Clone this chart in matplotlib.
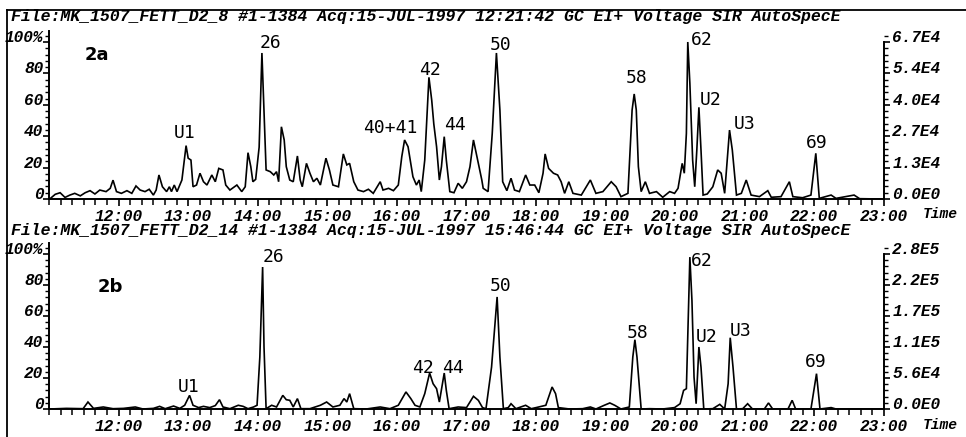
import matplotlib
matplotlib.use("Agg")
import matplotlib.pyplot as plt
from matplotlib.ticker import MultipleLocator
from matplotlib.lines import Line2D

# ---------------- data ----------------
headers = [
    "File:MK_1507_FETT_D2_8 #1-1384 Acq:15-JUL-1997 12:21:42 GC EI+ Voltage SIR AutoSpecE",
    "File:MK_1507_FETT_D2_14 #1-1384 Acq:15-JUL-1997 15:46:44 GC EI+ Voltage SIR AutoSpecE",
]
panel_names = ["2a", "2b"]
time_ticks = [12, 13, 14, 15, 16, 17, 18, 19, 20, 21, 22, 23]
time_tick_labels = ["12:00", "13:00", "14:00", "15:00", "16:00", "17:00",
                    "18:00", "19:00", "20:00", "21:00", "22:00", "23:00"]
pct_ticks = [0, 20, 40, 60, 80, 100]
pct_tick_labels = ["0", "20", "40", "60", "80", "100%"]
abs_labels_a = ["0.0E0", "1.3E4", "2.7E4", "4.0E4", "5.4E4", "6.7E4"]
abs_labels_b = ["0.0E0", "5.6E4", "1.1E5", "1.7E5", "2.2E5", "2.8E5"]

top_time = [11.01, 11.09, 11.16, 11.23, 11.30, 11.37, 11.45, 11.52, 11.59, 11.66, 11.73, 11.82,
            11.88, 11.92, 11.97, 12.04, 12.12, 12.19, 12.25, 12.31, 12.38, 12.44, 12.50, 12.54,
            12.58, 12.63, 12.69, 12.73, 12.76, 12.80, 12.84, 12.91, 12.97, 13.00, 13.04, 13.07,
            13.12, 13.17, 13.22, 13.27, 13.34, 13.39, 13.44, 13.50, 13.54, 13.60, 13.70, 13.77,
            13.82, 13.86, 13.90, 13.93, 13.97, 14.02, 14.06, 14.09, 14.12, 14.18, 14.23, 14.27,
            14.30, 14.34, 14.38, 14.41, 14.46, 14.51, 14.57, 14.61, 14.64, 14.70, 14.75, 14.80,
            14.85, 14.90, 14.98, 15.03, 15.08, 15.16, 15.23, 15.28, 15.32, 15.38, 15.44, 15.52,
            15.59, 15.66, 15.76, 15.80, 15.88, 15.95, 16.02, 16.07, 16.11, 16.16, 16.23, 16.28,
            16.32, 16.35, 16.40, 16.46, 16.50, 16.53, 16.57, 16.61, 16.64, 16.68, 16.71, 16.76,
            16.82, 16.88, 16.94, 17.00, 17.05, 17.10, 17.15, 17.22,
            17.24, 17.31, 17.37, 17.43, 17.48, 17.52, 17.58, 17.64, 17.69, 17.76, 17.85, 17.91,
            17.98, 18.04, 18.10, 18.13, 18.18, 18.25, 18.31, 18.36, 18.41, 18.47, 18.53, 18.65,
            18.78, 18.86, 18.96, 19.08, 19.15, 19.22, 19.32, 19.38, 19.41, 19.44, 19.47, 19.51,
            19.57, 19.63, 19.73, 19.82, 19.92, 19.99, 20.04, 20.10, 20.13, 20.16, 20.18, 20.21,
            20.25, 20.28, 20.31, 20.34, 20.37, 20.40, 20.46, 20.54, 20.61, 20.66, 20.71, 20.74,
            20.78, 20.82, 20.88, 20.95, 21.02, 21.09, 21.21, 21.33, 21.38, 21.52, 21.64, 21.69,
            21.83, 21.95, 22.02, 22.07, 22.24, 22.31, 22.57, 22.65, 22.96]
top_pct = [0, 3, 4, 1, 2.5, 3.6, 2, 4, 5.3, 3.2, 5.7, 4.7,
           6.8, 12, 4.7, 3.6, 5.3, 3.6, 8.3, 5.7, 4.7, 6.2, 2.5, 5.7,
           15.3, 7.8, 4.7, 7.8, 4.7, 8.9, 4.7, 12.1, 34, 26, 24.8, 7.8,
           8.9, 16.4, 11, 8.9, 15.3, 11, 19.5, 18.5, 8.9, 5.7, 8.9, 4.7,
           7.8, 29.5, 20.6, 11, 12.5, 33, 93, 56.7, 18.5, 17.4, 15.3, 17.4,
           11, 46, 37.6, 20.6, 12.1, 11, 27.4, 12.1, 7.8, 22.7, 16.4, 11,
           13.2, 8.9, 26, 18.5, 8.9, 7.8, 28.7, 21.7, 22.7, 11, 5.7, 4.7,
           6.2, 3.6, 11, 5.7, 6.8, 5.3, 8.9, 27, 37.6, 33.3, 14.2, 8.9,
           12.1, 4.7, 24.8, 77.5, 63, 47.8, 33.3, 12.1, 20.6, 39.7, 24.8, 4.7,
           4, 10, 6.8, 11, 20.6, 37.6, 27, 12.1,
           6.8, 4.7, 41.8, 93, 56.7, 11, 5.3, 13.2, 5.7, 4.7, 15.3, 8.9,
           8.9, 4, 16.4, 28.7, 19.5, 16.4, 15.3, 11, 3.6, 11, 3.6, 2.5,
           12.1, 3.6, 4.7, 11, 7.8, 1.5, 3.6, 56.7, 66.9, 56.7, 20.6, 4.7,
           11, 3.6, 4.7, 1.1, 4.7, 3.6, 6.8, 22.7, 16.4, 41.8, 100, 73.7,
           24.8, 7.8, 31.2, 58.4, 31.2, 2.5, 3.2, 7.8, 18.5, 16.4, 3.6, 20.6,
           43.9, 31.2, 2.5, 3.6, 12.1, 2.5, 1.5, 5.3, 1.1, 1.5, 11, 1.5,
           0.8, 2.5, 29.1, 0.4, 2.5, 0.4, 2.5, 0.2, 0]

bottom_time = [11.01, 11.25, 11.49, 11.56, 11.64, 11.78, 11.92, 12.07, 12.24, 12.35, 12.50, 12.59,
               12.67, 12.79, 12.88, 12.95, 13.02, 13.07, 13.15, 13.22, 13.31, 13.39, 13.45, 13.50,
               13.60, 13.72, 13.79, 13.86, 13.94, 13.99, 14.03, 14.07, 14.09, 14.12, 14.20, 14.27,
               14.36, 14.41, 14.46, 14.51, 14.57, 14.62, 14.75, 14.90, 14.99, 15.08, 15.18, 15.24,
               15.28, 15.32, 15.38, 15.56, 15.76, 15.90, 16.02, 16.13, 16.20, 16.26, 16.33, 16.40,
               16.47, 16.52, 16.57, 16.61, 16.68, 16.71, 16.75, 16.88, 17.00, 17.10, 17.17, 17.23,
               17.28, 17.36, 17.44, 17.48, 17.53, 17.60, 17.64, 17.71, 17.85, 17.93, 18.00, 18.14,
               18.23, 18.28, 18.32, 18.48, 18.67, 18.78, 18.86, 18.98, 19.06, 19.13, 19.22, 19.34,
               19.39, 19.42, 19.45, 19.51, 19.63, 19.82, 19.99, 20.07, 20.12, 20.16, 20.21, 20.24,
               20.27, 20.30, 20.34, 20.37, 20.41, 20.54, 20.64, 20.71, 20.76, 20.79, 20.83, 20.88,
               20.97, 21.04, 21.11, 21.28, 21.34, 21.40, 21.62, 21.68, 21.73, 21.95, 22.03, 22.08,
               22.24, 22.31, 22.96]
bottom_pct = [0, 0.4, 0.2, 4.5, 0.4, 1.3, 0.2, 0.4, 1.3, 0, 0.4, 1.7,
              0.2, 1.9, 0.4, 2.4, 8.8, 2.4, 0.9, 1.7, 0.9, 2.2, 6, 1.3,
              0.2, 2.4, 1.7, 0.2, 1.3, 2.4, 33.5, 91.6, 40, 0.2, 2.4, 1.3,
              8.8, 6, 5.6, 1.3, 6.7, 0.2, 0.2, 2.4, 4.5, 1.3, 2.4, 6.7,
              4.5, 9.9, 0.2, 0, 1.3, 0.2, 2.4, 11, 6.7, 2.4, 1.3, 9.9,
              23.2, 16.3, 13.1, 4.5, 23.2, 12, 0.2, 1.3, 0.9, 8.2, 5.6, 0.9,
              0.2, 27, 72.3, 33.5, 0.2, 0.9, 3.4, 0.2, 2.4, 0.2, 0.9, 2.4,
              14.2, 9.9, 0.9, 0, 0.2, 1.3, 0, 2.4, 3.9, 2.4, 0, 1.3,
              33.5, 44.7, 33.5, 0, 0.2, 0, 0.9, 3.4, 12, 13.1, 98, 70,
              20.6, 3.4, 40, 27, 0, 0.2, 3, 0, 16.3, 46, 27, 0,
              0.2, 3.4, 0, 0, 3.9, 0, 0, 5.6, 0, 0, 22.8, 0,
              0.9, 0, 0]

peak_names_a = ["U1", "26", "40+41", "42", "44", "50", "58", "62", "U2", "U3", "69"]
peak_names_b = ["U1", "26", "42", "44", "50", "58", "62", "U2", "U3", "69"]

# ---------------- layout (label anchor positions, data coords) ----------------
label_pos_a = [(12.95, 42.0), (14.18, 99.4), (15.90, 45.2), (16.47, 82.2), (16.83, 47.1),
               (17.49, 98.1), (19.45, 77.1), (20.38, 101.3), (20.51, 63.1), (21.00, 47.8),
               (22.03, 35.7)]
label_pos_b = [(13.01, 14.2), (14.22, 98.1), (16.37, 26.5), (16.80, 26.5), (17.49, 79.4),
               (19.46, 49.0), (20.38, 95.5), (20.45, 46.5), (20.94, 50.3), (22.02, 30.3)]
panel_name_pos = [(11.69, 91.7), (11.88, 78.7)]

W, H = 966, 437
fig = plt.figure(figsize=(W / 100, H / 100), dpi=100)
fig.patch.set_facecolor("white")

mono = dict(family="Liberation Mono", weight="bold", style="italic")
TF = 11.6

ax_rects = [
    [49 / W, 1 - 199 / H, (884 - 49) / W, 107 * 1.57 / H],
    [49 / W, 1 - 409 / H, (884 - 49) / W, 107 * 1.55 / H],
]
header_y = [17, 230]
timelabel_y = [214, 425]

panels = [
    (top_time, top_pct, abs_labels_a, peak_names_a, label_pos_a),
    (bottom_time, bottom_pct, abs_labels_b, peak_names_b, label_pos_b),
]

for i, (tt, pp, abs_labels, names, lpos) in enumerate(panels):
    ax = fig.add_axes(ax_rects[i])
    ax.set_facecolor("none")
    ax.plot(tt, pp, color="black", lw=1.2, solid_joinstyle="miter")
    ax.set_xlim(11, 23)
    ax.set_ylim(0, 107)
    for s in ["top", "right"]:
        ax.spines[s].set_visible(False)
    for s in ["left", "bottom"]:
        ax.spines[s].set_linewidth(1.4)

    ax.set_xticks(time_ticks)
    ax.set_xticklabels(time_tick_labels, fontsize=TF, **mono)
    ax.xaxis.set_minor_locator(MultipleLocator(1 / 6))
    ax.tick_params(axis="x", which="major", direction="out", length=5, width=1.2, pad=2)
    ax.tick_params(axis="x", which="minor", direction="out", length=4, width=1.1)

    ax.set_yticks(pct_ticks)
    ax.set_yticklabels(pct_tick_labels, fontsize=TF, **mono)
    ax.yaxis.set_minor_locator(MultipleLocator(4))
    ax.tick_params(axis="y", which="major", direction="out", length=4, width=1.2, pad=0)
    ax.tick_params(axis="y", which="minor", direction="out", length=3, width=1.0)
    for lab in ax.get_yticklabels():
        lab.set_va("baseline")

    ax2 = ax.twinx()
    ax2.set_ylim(0, 107)
    for s in ["top", "left", "bottom"]:
        ax2.spines[s].set_visible(False)
    ax2.spines["right"].set_bounds(0, 100)
    ax2.spines["right"].set_linewidth(1.4)
    ax2.set_yticks(pct_ticks)
    ax2.set_yticklabels(abs_labels, fontsize=TF, **mono)
    ax2.yaxis.set_minor_locator(MultipleLocator(4))
    ax2.tick_params(axis="y", which="major", direction="out", length=4, width=1.2, pad=2)
    ax2.tick_params(axis="y", which="minor", direction="out", length=3, width=1.0)
    for lab in ax2.get_yticklabels():
        lab.set_va("baseline")

    for name, (x, y) in zip(names, lpos):
        ax.text(x, y, name, ha="center", va="center", fontsize=13,
                family="DejaVu Sans Mono", color="black")
    px, py = panel_name_pos[i]
    ax.text(px, py, panel_names[i], ha="center", va="center", fontsize=13,
            family="DejaVu Sans", weight="bold")

    fig.text(11 / W, 1 - header_y[i] / H, headers[i], ha="left", va="center",
             fontsize=11.9, **mono)
    fig.text(923 / W, 1 - timelabel_y[i] / H, "Time", ha="left", va="center",
             fontsize=10.5, **mono)

# page frame lines
fig.add_artist(Line2D([7 / W, 7 / W], [0, 1 - 10 / H], color="black", lw=1.3,
                      transform=fig.transFigure))
fig.add_artist(Line2D([7 / W, 1], [1 - 10 / H, 1 - 10 / H], color="black", lw=1.3,
                      transform=fig.transFigure))

fig.savefig("out.png", dpi=100, facecolor="white")
